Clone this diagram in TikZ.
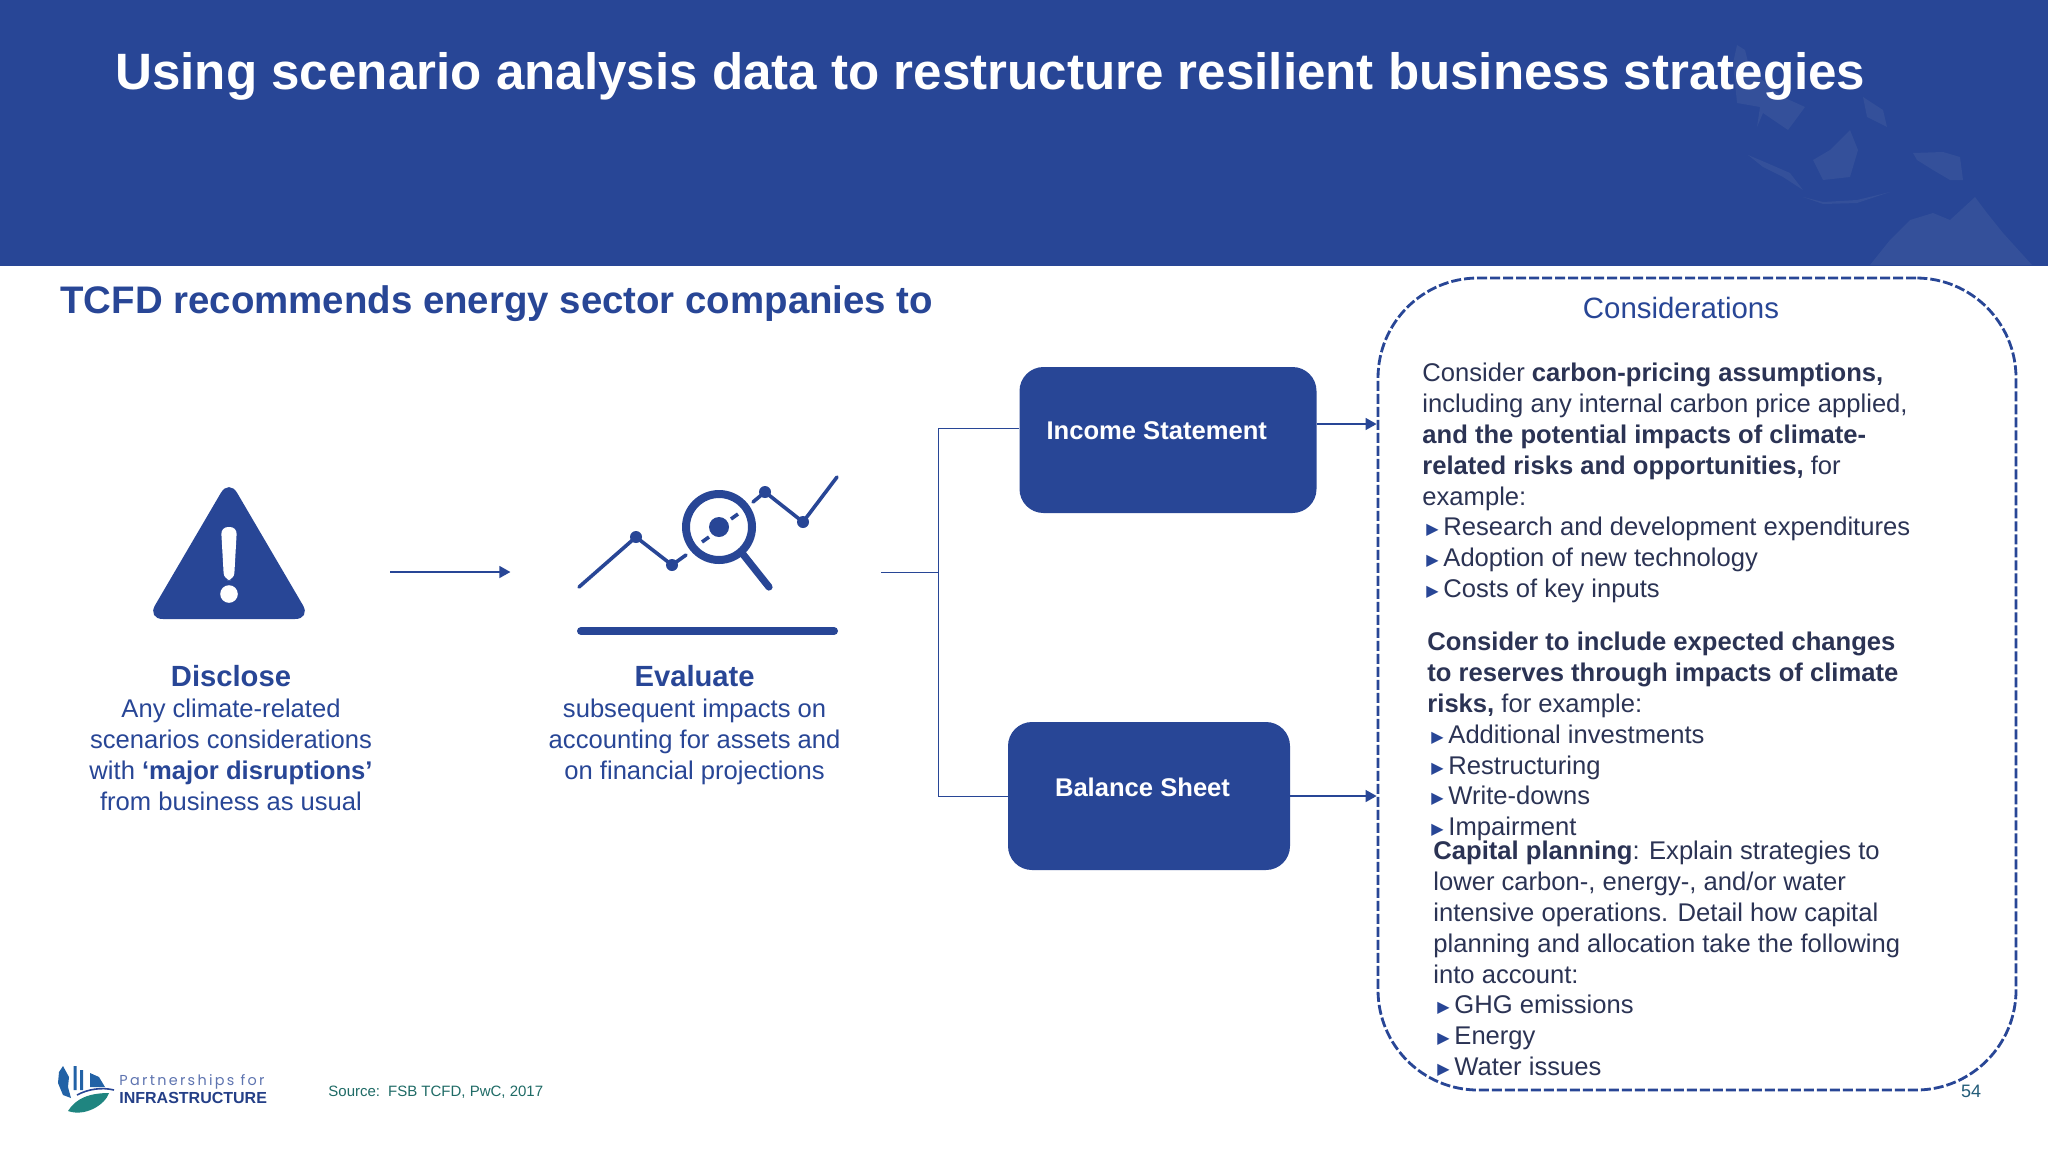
\documentclass[tikz,border=0pt]{standalone}
\usepackage{fontspec}
\setmainfont{Liberation Sans}
\newfontfamily\symbfont{DejaVu Sans}
\newfontfamily\logofont{Poppins}
\usetikzlibrary{positioning,arrows.meta}
\definecolor{brand}{HTML}{284696}
\definecolor{mapland}{HTML}{34509A}
\definecolor{inkdark}{HTML}{2B3354}
\definecolor{leafteal}{HTML}{1F8580}
\definecolor{srcteal}{HTML}{1F6B66}
\newcommand{\tribul}{\makebox[10.5pt][l]{\hspace{2pt}\raisebox{.5pt}{\symbfont\color{brand}\fontsize{8}{15.4}\selectfont ▶}}}

\begin{document}
\begin{tikzpicture}[x=.5pt,y=-.5pt,
  body/.style={font=\fontsize{12.8}{15.4}\selectfont,inner sep=0pt},
  bluetext/.style={body,text=brand,align=center},
  consblock/.style={body,text=inkdark,align=left,anchor=north west},
  finbox/.style={fill=brand,rounded corners=12pt},
  fintext/.style={font=\fontsize{12.8}{15}\selectfont\bfseries,text=white,inner sep=0pt,anchor=west},
  iconholder/.style={minimum height=62pt,inner sep=0pt},
  thinlink/.style={draw=brand,line width=.45pt},
  tiplink/.style={draw=brand,line width=.7pt,-{Triangle[length=5.5pt,width=6pt]}},
  iconline/.style={draw=brand,line width=1.8pt,line cap=round,line join=round}]
  \useasboundingbox (0,0) rectangle (2048,1152);
  \fill[white] (0,0) rectangle (2048,1152);
  \fill[brand] (0,0) rectangle (2048,266);
  % map behind the title
  \fill[mapland] (1870,265)--(1890,240)--(1910,220)--(1933,213)--(1950,220)--(1975,197)--(1987,213)--(2003,233)--(2032,265)--cycle;
  \fill[mapland] (1733,63)--(1737,45)--(1745,50)--(1750,70)--(1783,97)--(1805,107)--(1788,130)--(1763,113)--(1757,127)--(1760,107)--(1737,103)--cycle;
  \fill[mapland] (1748,155)--(1767,163)--(1790,173)--(1803,190)--(1783,177)--(1763,167)--cycle;
  \fill[mapland] (1803,197)--(1823,202)--(1857,200)--(1890,192)--(1857,203)--(1823,204)--cycle;
  \fill[mapland] (1813,160)--(1830,150)--(1850,130)--(1858,150)--(1850,177)--(1823,180)--cycle;
  \fill[mapland] (1913,153)--(1943,152)--(1960,157)--(1963,180)--(1950,180)--(1933,170)--(1917,160)--cycle;
  \fill[mapland] (1863,97)--(1883,110)--(1887,127)--(1867,117)--cycle;

  \node[anchor=base west,font=\fontsize{25.56}{30}\selectfont\bfseries,text=white,inner sep=0pt] (title) at (115,89)
    {Using scenario analysis data to restructure resilient business strategies};
  \node[anchor=west,font=\fontsize{19.2}{23}\selectfont\bfseries,text=brand,inner sep=0pt] (subtitle) at (60,304)
    {TCFD recommends energy sector companies to};

  % icon holders and their captions
  \node[iconholder,minimum width=159pt] (discloseicon) at (231,572) {};
  \node[iconholder,minimum width=185pt,right=60pt of discloseicon] (evaluateicon) {};
  \node[bluetext,below=15.5pt of discloseicon.south] (disclose)
    {{\fontsize{14.6}{17}\selectfont\bfseries Disclose}\\Any climate-related\\scenarios considerations\\with \textbf{‘major disruptions’}\\from business as usual};
  \node[bluetext,below=15.5pt of evaluateicon.south,xshift=-.6pt] (evaluate)
    {{\fontsize{14.6}{17}\selectfont\bfseries Evaluate}\\subsequent impacts on\\accounting for assets and\\on financial projections};

  % warning sign
  \fill[brand,rounded corners=8pt] (229,479)--(311,619)--(147,619)--cycle;
  \fill[white,rounded corners=3.5pt] (221,527)--(237,527)--(234,580)--(224,580)--cycle;
  \fill[white] (229,594) circle (4.4pt);

  % chart and magnifier
  \draw[iconline] (579,587)--(636,537)--(672,565)--(686,555);
  \draw[iconline] (753,502)--(765,492)--(803,522)--(837,477);
  \foreach \px/\py in {636/537,672/565,765/492,803/522}
    \fill[brand] (\px,\py) circle (3pt);
  \draw[brand,line width=4pt] (719,527) circle (16.5pt);
  \draw[brand,line width=3.6pt,line cap=round] (742,553)--(769,587);
  \fill[brand] (719,527) circle (5pt);
  \draw[iconline,line cap=butt] (702,542)--(709,537) (731,519)--(738,514);
  \draw[brand,line width=4pt,line cap=round] (581,631)--(834,631);

  % statements and the dashed panel
  \node[finbox,minimum width=148.5pt,minimum height=73pt] (income) at (1168,440) {};
  \node[finbox,minimum width=141pt,minimum height=74pt] (balance) at (1149,796) {};
  \node[fintext] (incometext) at ([xshift=13.5pt,yshift=4.6pt]income.west) {Income Statement};
  \node[fintext] (balancetext) at ([xshift=23.5pt,yshift=4.5pt]balance.west) {Balance Sheet};
  \node[draw=brand,line width=1.4pt,dash pattern=on 5pt off 1.5pt,rounded corners=50pt,
    minimum width=319pt,minimum height=406pt,inner sep=0pt] (considerations) at (1697,684) {};
  \node[anchor=center,font=\fontsize{14.7}{18}\selectfont,text=brand,inner sep=0pt] (constitle) at (1681,308) {Considerations};

  \coordinate (fork) at (938,572);
  \draw[tiplink] (discloseicon.east) -- (evaluateicon.west);
  \draw[thinlink] (evaluateicon.east) -- (fork);
  \draw[thinlink] ([yshift=6pt]income.west) -| (fork);
  \draw[thinlink] (balance.west) -| (fork);
  \draw[tiplink] ([yshift=8pt]income.east) -- ([yshift=8pt]income.east -| considerations.west);
  \draw[tiplink] (balance.east) -- (balance.east -| considerations.west);

  \node[consblock] (blockone) at (1422,363)
    {Consider \textbf{carbon-pricing assumptions,}\\including any internal carbon price applied,\\\textbf{and the potential impacts of climate-}\\\textbf{related risks and opportunities,} for\\example:\\\tribul Research and development expenditures\\\tribul Adoption of new technology\\\tribul Costs of key inputs};
  \node[consblock] (blocktwo) at (1427,632)
    {\textbf{Consider to include expected changes}\\\textbf{to reserves through impacts of climate}\\\textbf{risks,} for example:\\\tribul Additional investments\\\tribul Restructuring\\\tribul Write-downs\\\tribul Impairment};
  \node[consblock] (blockthree) at (1433,841)
    {\textbf{Capital planning}: Explain strategies to\\lower carbon-, energy-, and/or water\\intensive operations. Detail how capital\\planning and allocation take the following\\into account:\\\tribul GHG emissions\\\tribul Energy\\\tribul Water issues};

  % logo
  \fill[brand!85!cyan] (59,1072)--(63,1066)--(69,1077)--(68,1087)--(71,1098)--(63,1095)--(58,1083)--cycle;
  \fill[brand!85!cyan] (73.5,1066) rectangle (76.5,1090) (80,1070) rectangle (83,1090);
  \fill[brand!85!cyan] (90,1073)--(99,1077)--(105,1087)--(90,1087)--cycle;
  \draw[brand,line width=.8pt] (77,1095) .. controls (88,1089) and (102,1087) .. (114,1090);
  \fill[leafteal] (68,1111) .. controls (76,1098) and (90,1093) .. (109,1093) .. controls (105,1105) and (85,1117) .. (68,1111) -- cycle;
  \node[anchor=west,inner sep=0pt,text=brand!75!white,font=\logofont\fontsize{7.2}{9}\selectfont\addfontfeature{LetterSpace=16}] (logotop) at (119,1082) {Partnerships for};
  \node[anchor=west,inner sep=0pt,text=brand!90!black,font=\fontsize{8}{10}\selectfont\bfseries] (logobottom) at (119,1098) {INFRASTRUCTURE};

  \node[anchor=west,inner sep=0pt,text=srcteal,font=\fontsize{7.5}{9}\selectfont] (source) at (328,1092) {Source:\, FSB TCFD, PwC, 2017};
  \node[anchor=center,inner sep=0pt,text=srcteal!60!brand,font=\fontsize{9}{11}\selectfont] (pagenum) at (1971,1091) {54};
\end{tikzpicture}
\end{document}
